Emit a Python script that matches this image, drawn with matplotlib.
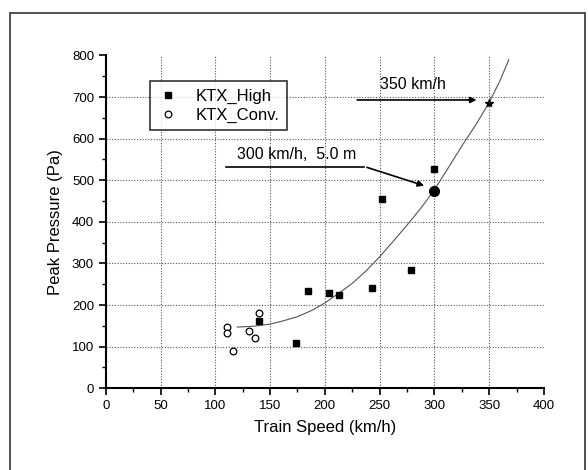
import matplotlib
matplotlib.use('Agg')
import matplotlib.pyplot as plt
from matplotlib.patches import Rectangle

plt.rcParams['font.family'] = ['Liberation Sans', 'DejaVu Sans']

# data
high_speed = [140, 174, 185, 204, 213, 243, 252, 279, 300]
high_press = [161, 108, 233, 230, 225, 242, 456, 284, 528]

conv_speed = [111, 111, 116, 131, 136, 140]
conv_press = [148, 133, 90, 137, 121, 181]

fit_speed = [120, 135, 150, 162, 175, 188, 200, 212, 225, 238, 250, 262,
             275, 288, 300, 312, 325, 338, 350, 360, 368]
fit_press = [147, 149, 154, 162, 172, 187, 205, 227, 252, 283, 316, 352,
             392, 434, 477, 527, 582, 634, 687, 740, 790]

point_300 = (300, 474)
point_350 = (350, 686)

fig = plt.figure(figsize=(5.88, 4.70), dpi=100)
ax = fig.add_axes([0.180, 0.174, 0.745, 0.708])

# frame around the scanned figure
fig.patches.append(Rectangle((10 / 588, -0.2), 575 / 588, 1.2 - 13 / 470,
                             transform=fig.transFigure, fill=False,
                             edgecolor='#333333', lw=1.2))

ax.plot(fit_speed, fit_press, '-', color='#555555', lw=0.8, zorder=2)
ax.plot(high_speed, high_press, 's', color='black', ms=4.6, zorder=3,
        label='KTX_High')
ax.plot(conv_speed, conv_press, 'o', mfc='white', mec='black', mew=0.9,
        ms=4.8, zorder=3, label='KTX_Conv.')
ax.plot(*point_300, 'o', color='black', ms=7, zorder=4)
ax.plot(*point_350, '*', color='black', ms=6, zorder=4)

ax.set_xlim(0, 400)
ax.set_ylim(0, 800)
ax.set_xticks(range(0, 401, 50))
ax.set_yticks(range(0, 801, 100))
ax.set_xticks(range(25, 400, 50), minor=True)
ax.set_yticks(range(50, 800, 100), minor=True)
ax.tick_params(which='major', direction='out', length=5, width=1.2,
               labelsize=9.5)
ax.tick_params(which='minor', direction='out', length=3, width=1.0)
for side in ['top', 'right']:
    ax.spines[side].set_visible(False)
for side in ['left', 'bottom']:
    ax.spines[side].set_linewidth(1.5)

ax.grid(True, which='major', linestyle=(0, (1, 1.5)), color='#555555', lw=0.8)
ax.get_ygridlines()[-1].set_visible(False)
ax.get_xgridlines()[-1].set_visible(False)
ax.set_axisbelow(True)

ax.set_xlabel('Train Speed (km/h)', fontsize=12, labelpad=6)
ax.set_ylabel('Peak Pressure (Pa)', fontsize=12, labelpad=6)

leg = ax.legend(loc='upper left', bbox_to_anchor=(0.1, 0.922), fontsize=12,
                frameon=True, fancybox=False, handletextpad=1.0,
                borderpad=0.45, labelspacing=0.2, handlelength=1.3,
                borderaxespad=0)
leg.get_frame().set_edgecolor('black')
leg.get_frame().set_linewidth(1.2)

# annotations
ax.annotate('', xy=(341, 693), xytext=(227, 693),
            arrowprops=dict(arrowstyle='-|>', color='black', lw=1.2,
                            mutation_scale=9))
ax.text(280, 730, '350 km/h', fontsize=11.5, ha='center', va='center')

ax.plot([110, 236], [533, 533], '-', color='black', lw=1.2)
ax.annotate('', xy=(293, 485), xytext=(236, 533),
            arrowprops=dict(arrowstyle='-|>', color='black', lw=1.2,
                            mutation_scale=9))
ax.text(120, 561, '300 km/h,  5.0 m', fontsize=11.5, ha='left', va='center')

fig.savefig('out.png', dpi=100)
